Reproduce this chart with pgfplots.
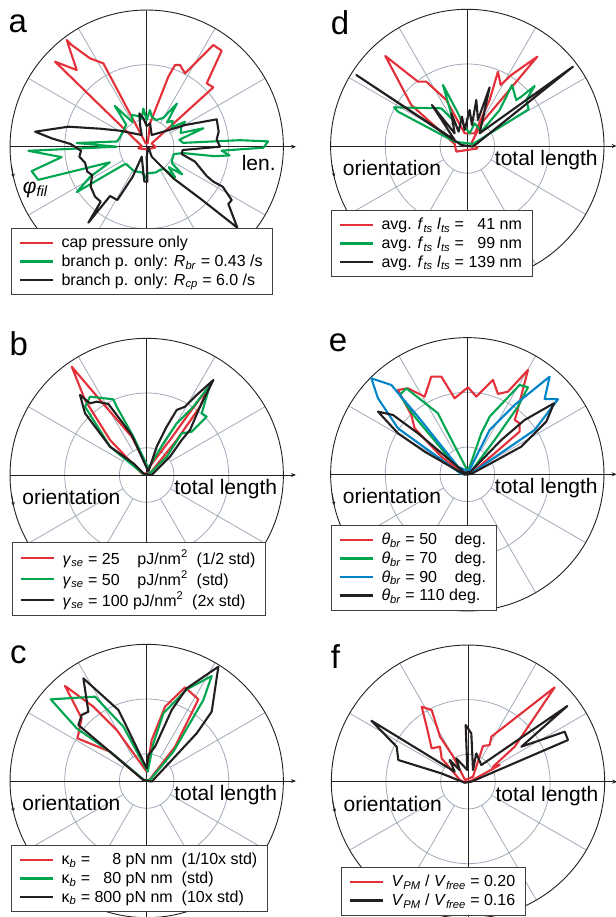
\documentclass[border=0pt]{standalone}
\usepackage{fontspec}
\setmainfont{Liberation Sans}
\usepackage{pgfplots}
\pgfplotsset{compat=1.18}
\usetikzlibrary{arrows.meta}

\definecolor{cred}{RGB}{228,48,56}
\definecolor{cgreen}{RGB}{0,165,80}
\definecolor{cblue}{RGB}{0,132,201}
\definecolor{cblack}{RGB}{35,31,32}
\definecolor{cgrid}{RGB}{160,170,185}

% polar grid: #1 = start angle of outer arc, #2 = end angle, #3 = lower end of vertical axis
\newcommand{\polargrid}[3]{%
  \draw[cgrid,line width=0.8bp] (axis cs:0,0) circle[radius=82];
  \draw[cgrid,line width=0.8bp] (axis cs:0,0) circle[radius=246];
  \pgfplotsinvokeforeach{30,60,120,150,210,240,300,330}{%
    \draw[cgrid,line width=0.8bp] (axis cs:{82*cos(##1)},{82*sin(##1)}) -- (axis cs:{410*cos(##1)},{410*sin(##1)});}
  \draw[cblack,line width=0.9bp] (axis cs:{410*cos(#1)},{410*sin(#1)}) arc[start angle=#1, end angle=#2, radius=410];
  \draw[cblack,line width=0.9bp] (axis cs:0,#3) -- (axis cs:0,410);
  \draw[cblack,line width=0.9bp,-{Stealth[length=5bp,width=4bp]}] (axis cs:-410,0) -- (axis cs:448,0);
  \draw[cblack,line width=0.9bp,-{Stealth[length=4bp,width=3.5bp]}] (axis cs:-406,-57) -- (axis cs:-399,-93);
}

\pgfplotsset{
  panel/.style={x=0.33333bp, y=0.33333bp, xmin=-450, xmax=450, ymin=-450, ymax=450,
    hide axis, clip=false, anchor=center,
    legend cell align=left,
    legend image code/.code={\draw[##1, line width=2.2bp] (0bp,0bp) -- (33bp,0bp);},
    legend style={draw=black!75, line width=0.7bp, fill=white, anchor=north west,
      inner xsep=8bp, inner ysep=6bp, row sep=1.5bp,
      font=\fontsize{16bp}{19bp}\selectfont,
      /tikz/every odd column/.append style={column sep=5bp}}},
  dl/.style={line width=2.1bp, line join=round},
}
\newcommand{\alab}{\fontsize{21bp}{24bp}\selectfont}
\newcommand{\plab}{\fontsize{33bp}{36bp}\selectfont}

\begin{document}
\begin{tikzpicture}
\useasboundingbox (0,0) rectangle (616bp,917bp);

%================ a ================
\begin{axis}[panel, at={(146.7bp,770.3bp)},
  legend style={at={(axis cs:-407,-244)}}]
\polargrid{0}{360}{-410}
\addplot[cred,dl] coordinates {(28,-2) (15,10) (200,178) (180,190) (225,288) (200,305) (115,220) (100,245) (85,245) (65,210) (10,70) (3,10) (-3,10) (-130,250) (-170,265) (-225,305) (-240,320) (-210,230) (-275,255) (-15,2) (-25,-5) (0,-8) (28,-2)};
\addlegendentry{cap pressure only}
\addplot[cgreen,dl,data cs=polar] coordinates {(-140,80) (-130,80) (-120,82) (-110,80) (-100,78) (-92,95) (-88,80) (-80,80) (-70,82) (-60,80) (-52,85) (-47,125) (-43,90) (-38,135) (-33,90) (-25,85) (-15,85) (-10,110) (-8,205) (-6,250) (-3,225) (-0.5,350) (2.5,365) (4,280) (6,110) (12,100) (18,179) (22,110) (30,120) (33,137) (38,95) (45,110) (50,95) (55,158) (60,100) (70,85) (80,90) (85,110) (90,80) (95,115) (100,85) (105,95) (115,105) (120,85) (128,155) (133,90) (145,85) (160,85) (170,90) (177,210) (180,90) (182,355) (187,257) (192,353) (197,340) (203,120) (208,192) (213,250) (218,90) (220,80)};
\addlegendentry{branch p. only: \textit{R}\textsubscript{\textit{br}} = 0.43 /s\hspace{20bp}}
\addplot[cblack,dl] coordinates {(5,0) (15,-30) (80,-95) (160,-155) (272,-243) (245,-172) (255,-160) (228,-120) (200,-105) (180,-88) (145,-45) (105,-22) (108,-10) (220,0) (210,22) (216,45) (210,82) (115,65) (50,45) (15,35) (10,70) (0,62) (-10,85) (-22,100) (-20,65) (-15,35) (-80,48) (-140,54) (-235,60) (-335,45) (-285,25) (-228,8) (-197,-12) (-202,-30) (-185,-48) (-178,-75) (-164,-85) (-168,-120) (-155,-150) (-138,-165) (-175,-228) (-110,-148) (-88,-160) (-42,-90) (-15,-30) (-7,-105) (2,-105) (0,-30) (5,0)};
\addlegendentry{branch p. only: \textit{R}\textsubscript{\textit{cp}} = 6.0 /s}
\node[anchor=base west,inner sep=0,font=\plab] at (axis cs:-415,343) {a};
\node[anchor=base,inner sep=0,font=\alab] at (axis cs:336,-70) {len.};
\node[anchor=base west,inner sep=0,font=\alab] at (axis cs:-372,-140) {\textit{φ}\textsubscript{\textit{fil}}};
\end{axis}

%================ d ================
\begin{axis}[panel, at={(467.3bp,771bp)},
  legend style={at={(axis cs:-409,-192)}}]
\polargrid{-70}{250}{-387}
\addplot[cred,dl] coordinates {(32,-7) (12,8) (42,68) (122,163) (210,268) (132,213) (100,183) (92,223) (67,138) (22,38) (-8,38) (-63,138) (-123,193) (-148,193) (-246,270) (-168,123) (-38,6) (-33,-17) (32,-7)};
\addlegendentry{avg. \textit{f}\textsubscript{\textit{ts}} \textit{l}\textsubscript{\textit{ts}} = \phantom{1}41 nm}
\addplot[cgreen,dl] coordinates {(17,6) (184,110) (177,138) (202,180) (162,148) (147,138) (134,183) (112,138) (97,108) (42,43) (22,68) (7,38) (-8,58) (-33,108) (-73,183) (-43,78) (-78,113) (-220,116) (-208,103) (-38,13) (17,6)};
\addlegendentry{avg. \textit{f}\textsubscript{\textit{ts}} \textit{l}\textsubscript{\textit{ts}} = \phantom{1}99 nm}
\addplot[cblack,dl] coordinates {(17,-2) (317,238) (37,38) (67,176) (32,78) (27,138) (14,63) (7,108) (-8,48) (-16,88) (-26,43) (-48,98) (-38,38) (-106,123) (-38,18) (-333,213) (-18,3) (17,-2)};
\addlegendentry{avg. \textit{f}\textsubscript{\textit{ts}} \textit{l}\textsubscript{\textit{ts}} = 139 nm}
\node[anchor=base west,inner sep=0,font=\plab] at (axis cs:-410,333) {d};
\node[anchor=base,inner sep=0,font=\alab] at (axis cs:-226,-88) {orientation};
\node[anchor=base,inner sep=0,font=\alab] at (axis cs:237,-58) {total length};
\end{axis}

%================ b ================
\begin{axis}[panel, at={(146.7bp,442bp)},
  legend style={at={(axis cs:-404,-200)}}]
\polargrid{0}{360}{-410}
\addplot[cred,dl] coordinates {(10,5) (90,105) (160,205) (185,263) (120,175) (70,105) (5,20) (-45,115) (-140,225) (-225,325) (-185,225) (-110,105) (-15,5) (10,5)};
\addlegendentry{\textit{γ}\textsubscript{\textit{se}} = 25\phantom{0}\ \ pJ/nm\textsuperscript{2}\ \ (1/2 std)}
\addplot[cgreen,dl] coordinates {(8,3) (60,55) (105,125) (135,130) (180,175) (165,185) (190,270) (140,205) (90,155) (50,95) (5,20) (-40,115) (-90,205) (-100,227) (-170,235) (-185,205) (-110,85) (-10,3) (8,3)};
\addlegendentry{\textit{γ}\textsubscript{\textit{se}} = 50\phantom{0}\ \ pJ/nm\textsuperscript{2}\ \ (std)}
\addplot[cblack,dl] coordinates {(15,0) (70,55) (105,105) (130,135) (160,205) (200,285) (150,240) (115,205) (90,195) (60,145) (30,85) (5,10) (-20,65) (-45,120) (-90,180) (-115,213) (-150,220) (-170,215) (-200,240) (-185,185) (-140,125) (-110,85) (-40,35) (-8,3) (15,0)};
\addlegendentry{\textit{γ}\textsubscript{\textit{se}} = 100 pJ/nm\textsuperscript{2}\ \ (2x std)}
\node[anchor=base west,inner sep=0,font=\plab] at (axis cs:-412,360) {b};
\node[anchor=base,inner sep=0,font=\alab] at (axis cs:-226,-88) {orientation};
\node[anchor=base,inner sep=0,font=\alab] at (axis cs:237,-58) {total length};
\end{axis}

%================ e ================
\begin{axis}[panel, at={(467.3bp,442.7bp)},
  legend style={at={(axis cs:-409,-152)}}]
\polargrid{0}{360}{-410}
\addplot[cred,dl] coordinates {(12,3) (82,63) (157,128) (157,153) (142,163) (147,178) (182,313) (122,248) (92,241) (77,283) (27,233) (2,261) (-38,228) (-78,293) (-108,293) (-128,233) (-178,258) (-208,253) (-168,178) (-158,138) (-78,53) (-13,3) (12,3)};
\addlegendentry{\textit{θ}\textsubscript{\textit{br}} = 50\phantom{0}\ \ deg.}
\addplot[cgreen,dl] coordinates {(7,3) (82,103) (152,203) (182,261) (157,268) (67,173) (42,123) (2,8) (-68,143) (-88,183) (-183,258) (-203,238) (-158,173) (-58,53) (-8,1) (7,3)};
\addlegendentry{\textit{θ}\textsubscript{\textit{br}} = 70\phantom{0}\ \ deg.}
\addplot[cblue,dl] coordinates {(9,1) (202,133) (272,225) (232,226) (247,293) (142,208) (67,133) (4,8) (-28,23) (-148,173) (-228,268) (-288,288) (-268,228) (-208,138) (-18,1) (9,1)};
\addlegendentry{\textit{θ}\textsubscript{\textit{br}} = 90\phantom{0}\ \ deg.}
\addplot[cblack,dl] coordinates {(12,1) (162,83) (237,158) (260,213) (172,163) (102,103) (10,8) (-8,5) (-148,123) (-223,178) (-268,188) (-208,123) (-128,68) (-8,-1) (12,1)};
\addlegendentry{\textit{θ}\textsubscript{\textit{br}} = 110 deg.}
\node[anchor=base west,inner sep=0,font=\plab] at (axis cs:-416,368) {e};
\node[anchor=base,inner sep=0,font=\alab] at (axis cs:-226,-88) {orientation};
\node[anchor=base,inner sep=0,font=\alab] at (axis cs:237,-58) {total length};
\end{axis}

%================ c ================
\begin{axis}[panel, at={(146.7bp,136bp)},
  legend style={at={(axis cs:-407,-192)}}]
\polargrid{0}{360}{-410}
\addplot[cred,dl] coordinates {(8,3) (85,103) (155,245) (115,281) (55,223) (15,123) (0,28) (-90,153) (-160,223) (-245,285) (-195,188) (-208,128) (-110,88) (-10,3) (8,3)};
\addlegendentry{κ\textsubscript{\textit{b}} = \phantom{00}8 pN nm\ \ (1/10x std)}
\addplot[cgreen,dl] coordinates {(10,3) (80,88) (170,243) (195,315) (120,275) (50,203) (20,113) (3,28) (-70,163) (-155,253) (-288,245) (-210,158) (-110,88) (-8,3) (10,3)};
\addlegendentry{κ\textsubscript{\textit{b}} = \phantom{0}80 pN nm\ \ (std)}
\addplot[cblack,dl] coordinates {(15,-2) (150,143) (195,208) (215,343) (120,278) (75,213) (25,103) (5,78) (0,38) (-65,173) (-85,213) (-190,308) (-175,208) (-195,198) (-205,168) (-140,113) (-10,3) (15,-2)};
\addlegendentry{κ\textsubscript{\textit{b}} = 800 pN nm\ \ (10x std)}
\node[anchor=base west,inner sep=0,font=\plab] at (axis cs:-410,353) {c};
\node[anchor=base,inner sep=0,font=\alab] at (axis cs:-226,-88) {orientation};
\node[anchor=base,inner sep=0,font=\alab] at (axis cs:237,-58) {total length};
\end{axis}

%================ f ================
\begin{axis}[panel, at={(468bp,135.3bp)},
  legend style={at={(axis cs:-381,-256)}}]
\polargrid{0}{360}{-410}
\addplot[cred,dl] coordinates {(10,3) (95,50) (75,45) (140,105) (260,283) (70,135) (65,110) (45,107) (15,15) (-9,5) (-44,75) (-84,135) (-109,215) (-139,225) (-124,165) (-109,100) (-84,105) (-79,70) (-24,5) (-10,-3) (10,3)};
\addlegendentry{\textit{V}\textsubscript{\textit{PM}} / \textit{V}\textsubscript{\textit{free}} = 0.20}
\addplot[cblack,dl] coordinates {(10,0) (300,125) (290,150) (160,105) (298,227) (40,50) (25,85) (15,35) (10,145) (-7,170) (-2,35) (-35,70) (-25,35) (-55,65) (-40,30) (-290,183) (-214,105) (-209,65) (-80,25) (-10,-3) (10,0)};
\addlegendentry{\textit{V}\textsubscript{\textit{PM}} / \textit{V}\textsubscript{\textit{free}} = 0.16}
\node[anchor=base west,inner sep=0,font=\plab] at (axis cs:-412,340) {f};
\node[anchor=base,inner sep=0,font=\alab] at (axis cs:-226,-88) {orientation};
\node[anchor=base,inner sep=0,font=\alab] at (axis cs:237,-58) {total length};
\end{axis}
\end{tikzpicture}
\end{document}
